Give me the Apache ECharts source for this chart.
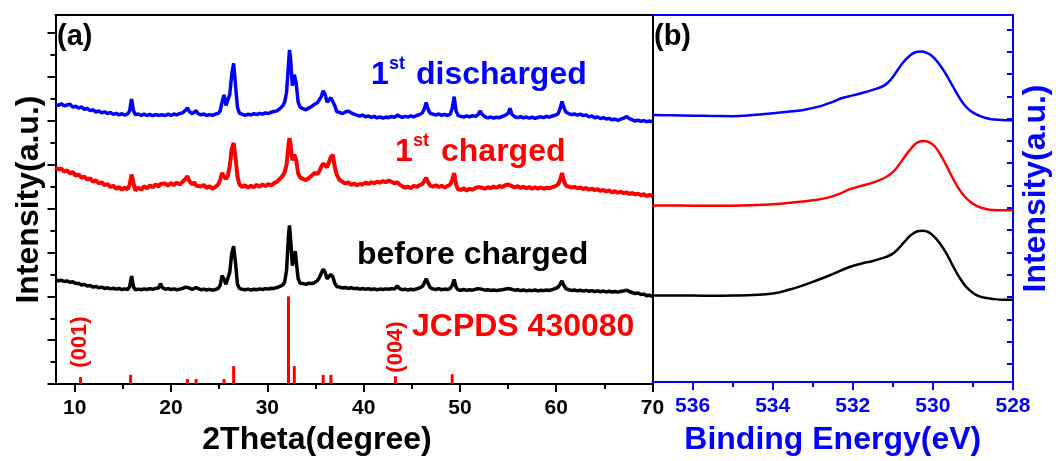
<!DOCTYPE html>
<html>
<head>
<meta charset="utf-8">
<script src="https://cdn.jsdelivr.net/npm/echarts@6/dist/echarts.min.js"></script>
<style>
  html, body { margin: 0; padding: 0; background: #ffffff; }
  #chart { width: 1056px; height: 461px; }
</style>
</head>
<body>
<div id="chart"></div>
<script>
// ---- (a) XRD patterns: diffraction angle (2θ, degrees) and offset intensities ----
const twoTheta = [
  8.0, 8.3, 8.6, 8.9, 9.2, 9.5, 9.8, 10.1, 10.4, 10.7, 11.0, 11.3, 11.6, 11.9, 12.2, 12.5, 12.8, 13.1, 13.4, 13.7, 14.0, 14.3, 14.6, 14.9, 15.2, 15.5,
  15.7, 15.9, 16.1, 16.3,
  16.6, 16.9, 17.2, 17.5, 17.8, 18.1, 18.4, 18.7,
  18.9, 19.1,
  19.4, 19.7, 20.0, 20.3, 20.6, 20.9, 21.2,
  21.5, 21.7, 21.9,
  22.2, 22.4, 22.6, 22.8,
  23.1, 23.4, 23.7, 24.0, 24.3, 24.6, 24.9,
  25.1, 25.3, 25.5, 25.7, 25.9, 26.1, 26.3, 26.5, 26.7, 26.9, 27.1,
  27.4, 27.7, 28.0, 28.3, 28.6, 28.9, 29.2, 29.5, 29.8, 30.1, 30.4, 30.7, 31.0, 31.3, 31.6,
  31.8, 32.0, 32.2, 32.3, 32.4, 32.6, 32.8, 32.9, 33.0, 33.2, 33.4,
  33.7, 34.0, 34.3, 34.6, 34.9, 35.2, 35.4,
  35.6, 35.8, 36.0, 36.2, 36.4, 36.6, 36.8, 37.0, 37.2,
  37.5, 37.8, 38.1, 38.4, 38.7, 39.0, 39.3, 39.6, 39.9, 40.2, 40.5, 40.8, 41.1, 41.4, 41.7, 42.0, 42.3, 42.6, 42.9, 43.2,
  43.5, 43.7,
  44.0, 44.3, 44.6, 44.9, 45.2, 45.5, 45.8, 46.1,
  46.3, 46.5, 46.7, 46.9,
  47.2, 47.5, 47.8, 48.1, 48.4, 48.7, 49.0,
  49.2, 49.4, 49.6, 49.8,
  50.1, 50.4, 50.7, 51.0, 51.3, 51.6, 51.9,
  52.1, 52.3,
  52.6, 52.9, 53.2, 53.5, 53.8, 54.1, 54.4, 54.7, 55.0,
  55.2, 55.4,
  55.7, 56.0, 56.3, 56.6, 56.9, 57.2, 57.5, 57.8, 58.1, 58.4, 58.7, 59.0, 59.3, 59.6, 59.9, 60.2,
  60.4, 60.6, 60.8, 61.0,
  61.3, 61.6, 61.9, 62.2, 62.5, 62.8, 63.1, 63.4, 63.7, 64.0, 64.3, 64.6, 64.9, 65.2, 65.5, 65.8, 66.1, 66.4, 66.7, 67.0, 67.3, 67.6, 67.9, 68.2, 68.5, 68.8, 69.1, 69.4, 69.7, 70.0
];

const xrdDischarged = [
  12.74, 12.70, 12.78, 12.68, 12.72, 12.76, 12.62, 12.66, 12.58, 12.63, 12.52, 12.56, 12.46, 12.50, 12.40, 12.45, 12.36, 12.41, 12.33, 12.38, 12.29, 12.34, 12.27, 12.32, 12.26, 12.31,
  12.45, 12.99, 12.45, 12.28,
  12.31, 12.25, 12.30, 12.24, 12.29, 12.23, 12.28, 12.25,
  12.32, 12.27,
  12.24, 12.30, 12.25, 12.31, 12.27, 12.33, 12.36,
  12.48, 12.59, 12.42,
  12.32, 12.38, 12.46, 12.33,
  12.27, 12.31, 12.24, 12.28, 12.25, 12.30, 12.34,
  12.45, 12.85, 13.18, 12.70, 12.62, 13.20, 14.10, 14.62, 13.60, 12.60, 12.35,
  12.29, 12.25, 12.30, 12.27, 12.32, 12.28, 12.34, 12.30, 12.36, 12.33, 12.39, 12.42, 12.45, 12.55, 12.68,
  12.85, 13.30, 14.60, 15.23, 14.90, 13.60, 14.10, 14.17, 13.70, 12.85, 12.62,
  12.55, 12.50, 12.58, 12.65, 12.75, 12.82, 12.90,
  13.10, 13.36, 13.20, 12.85, 12.80, 13.05, 13.05, 12.70, 12.42,
  12.38, 12.33, 12.40, 12.44, 12.36, 12.30, 12.26, 12.21, 12.26, 12.18, 12.22, 12.15, 12.20, 12.13, 12.18, 12.12, 12.17, 12.14, 12.20, 12.15,
  12.26, 12.19,
  12.15, 12.20, 12.17, 12.22, 12.18, 12.24, 12.28, 12.36,
  12.55, 12.83, 12.52, 12.35,
  12.30, 12.26, 12.31, 12.25, 12.29, 12.24, 12.30,
  12.55, 13.10, 12.45, 12.25,
  12.20, 12.17, 12.22, 12.18, 12.23, 12.20, 12.28,
  12.45, 12.30,
  12.18, 12.13, 12.17, 12.12, 12.16, 12.14, 12.20, 12.25, 12.33,
  12.57, 12.30,
  12.18, 12.14, 12.19, 12.13, 12.17, 12.12, 12.16, 12.11, 12.15, 12.18, 12.14, 12.20, 12.16, 12.22, 12.25, 12.32,
  12.55, 12.88, 12.60, 12.40,
  12.33, 12.28, 12.31, 12.26, 12.30, 12.24, 12.27, 12.18, 12.22, 12.14, 12.17, 12.10, 12.14, 12.08, 12.11, 12.04, 12.08, 12.02, 12.07, 12.12, 12.20, 12.10, 12.04, 11.99, 12.03, 11.97, 12.01, 11.96, 11.99, 11.95
];

const xrdCharged = [
  9.88, 9.78, 9.82, 9.68, 9.74, 9.60, 9.66, 9.50, 9.56, 9.40, 9.46, 9.32, 9.38, 9.22, 9.29, 9.14, 9.20, 9.06, 9.12, 8.98, 9.04, 8.90, 8.98, 8.86, 8.95, 8.88,
  9.10, 9.55, 9.15, 8.82,
  8.95, 8.86, 9.02, 8.92, 9.06, 8.97, 9.10, 9.00,
  9.12, 9.03,
  9.14, 9.05, 9.16, 9.07, 9.18, 9.10, 9.22,
  9.35, 9.47, 9.25,
  9.10, 9.20, 9.05, 9.14,
  9.00, 9.08, 8.94, 9.02, 8.90, 8.98, 9.10,
  9.30, 9.62, 9.45, 9.35, 9.50, 9.95, 10.70, 10.99, 10.30, 9.45, 9.10,
  8.98, 9.06, 8.95, 9.04, 8.97, 9.08, 8.99, 9.10, 9.02, 9.12, 9.05, 9.16, 9.22, 9.35, 9.50,
  9.65, 10.00, 10.90, 11.21, 10.95, 10.20, 10.45, 10.53, 10.20, 9.60, 9.42,
  9.35, 9.30, 9.38, 9.50, 9.62, 9.58, 9.70,
  9.90, 10.05, 10.08, 9.88, 9.95, 10.35, 10.45, 9.90, 9.55,
  9.30, 9.22, 9.14, 9.20, 9.08, 9.14, 9.06, 9.12, 9.10, 9.18, 9.12, 9.20, 9.15, 9.22, 9.18, 9.25, 9.20, 9.28, 9.22, 9.15,
  9.20, 9.10,
  9.02, 8.95, 9.00, 8.92, 9.04, 8.98, 9.06, 9.12,
  9.25, 9.40, 9.20, 9.05,
  9.00, 9.06, 8.98, 9.04, 8.96, 9.02, 9.10,
  9.30, 9.62, 9.10, 8.88,
  8.85, 8.92, 8.82, 8.90, 8.86, 8.94, 8.98,
  9.05, 8.95,
  8.90, 8.97, 8.93, 9.00, 8.95, 9.03, 8.98, 9.06, 9.10,
  9.17, 9.02,
  8.96, 9.02, 8.94, 9.00, 8.92, 8.98, 8.90, 8.97, 8.91, 8.96, 8.90, 8.95, 8.92, 8.98, 9.02, 9.10,
  9.30, 9.62, 9.25, 9.05,
  9.00, 8.95, 8.99, 8.92, 8.96, 8.89, 8.94, 8.86, 8.91, 8.84, 8.88, 8.80, 8.85, 8.78, 8.83, 8.74, 8.79, 8.72, 8.77, 8.70, 8.74, 8.66, 8.71, 8.64, 8.68, 8.60, 8.66, 8.57, 8.62, 8.58
];

const xrdBefore = [
  4.75, 4.71, 4.73, 4.68, 4.70, 4.64, 4.66, 4.58, 4.60, 4.52, 4.54, 4.47, 4.49, 4.42, 4.45, 4.39, 4.42, 4.36, 4.39, 4.34, 4.37, 4.33, 4.36, 4.31, 4.34, 4.31,
  4.45, 4.92, 4.42, 4.30,
  4.33, 4.30, 4.34, 4.31, 4.35, 4.32, 4.36, 4.38,
  4.58, 4.40,
  4.32, 4.35, 4.31, 4.34, 4.30, 4.33, 4.36,
  4.42, 4.48, 4.38,
  4.31, 4.35, 4.40, 4.32,
  4.30, 4.33, 4.29, 4.32, 4.28, 4.31, 4.36,
  4.50, 4.95, 4.78, 4.55, 4.60, 5.10, 5.95, 6.29, 5.50, 4.55, 4.36,
  4.32, 4.30, 4.33, 4.29, 4.32, 4.30, 4.34, 4.31, 4.35, 4.33, 4.37, 4.36, 4.40, 4.45, 4.52,
  4.65, 5.20, 6.80, 7.23, 6.70, 5.40, 5.90, 6.06, 5.60, 4.80, 4.60,
  4.58, 4.55, 4.60, 4.58, 4.62, 4.72, 4.85,
  5.05, 5.23, 5.10, 4.80, 4.78, 5.00, 4.90, 4.60, 4.45,
  4.42, 4.38, 4.40, 4.36, 4.39, 4.35, 4.37, 4.33, 4.36, 4.32, 4.35, 4.31, 4.34, 4.30, 4.33, 4.31, 4.34, 4.32, 4.35, 4.33,
  4.48, 4.36,
  4.30, 4.33, 4.29, 4.32, 4.30, 4.34, 4.38, 4.45,
  4.60, 4.80, 4.58, 4.40,
  4.34, 4.31, 4.35, 4.30, 4.33, 4.31, 4.36,
  4.50, 4.77, 4.42, 4.30,
  4.28, 4.31, 4.27, 4.30, 4.28, 4.32, 4.35,
  4.42, 4.32,
  4.28, 4.30, 4.27, 4.29, 4.26, 4.29, 4.30, 4.33, 4.36,
  4.43, 4.32,
  4.28, 4.30, 4.26, 4.29, 4.25, 4.28, 4.26, 4.29, 4.25, 4.28, 4.26, 4.29, 4.27, 4.31, 4.35, 4.42,
  4.55, 4.70, 4.50, 4.35,
  4.30, 4.27, 4.29, 4.25, 4.28, 4.24, 4.27, 4.23, 4.26, 4.22, 4.25, 4.21, 4.24, 4.20, 4.23, 4.20, 4.22, 4.19, 4.22, 4.25, 4.28, 4.22, 4.17, 4.13, 4.15, 4.08, 4.10, 4.03, 4.05, 4.00
];

// Reference card JCPDS 430080: line positions and relative heights
const jcpdsAngles    = [10.6, 15.8, 21.7, 22.6, 25.5, 26.5, 32.2, 32.8, 35.8, 36.6, 43.3, 49.2];
const jcpdsIntensity = [0.32, 0.42, 0.23, 0.23, 0.23, 0.82, 4.00, 0.82, 0.42, 0.42, 0.36, 0.45];

// ---- (b) O 1s XPS spectra: [binding energy (eV), offset intensity] ----
const xpsDischarged = [
  [537.0, 11.96], [536.5, 11.95], [536.0, 11.93], [535.5, 11.92], [535.0, 11.91], [534.5, 11.96], [534.0, 12.04],
  [533.5, 12.13], [533.2, 12.20], [532.8, 12.36], [532.5, 12.55], [532.3, 12.70], [532.0, 12.84], [531.7, 12.98],
  [531.4, 13.14], [531.2, 13.30], [531.05, 13.55], [530.9, 13.92], [530.75, 14.30], [530.6, 14.58], [530.45, 14.76],
  [530.3, 14.80], [530.15, 14.74], [530.0, 14.57], [529.85, 14.26], [529.7, 13.87], [529.55, 13.40], [529.4, 12.92],
  [529.25, 12.50], [529.1, 12.20], [528.95, 12.02], [528.8, 11.90], [528.6, 11.79], [528.4, 11.75], [528.2, 11.73], [528.0, 11.73]
];
const xpsCharged = [
  [537.0, 7.91], [536.5, 7.91], [536.0, 7.90], [535.5, 7.90], [535.0, 7.90], [534.5, 7.92], [534.0, 7.96],
  [533.5, 8.04], [533.0, 8.14], [532.6, 8.27], [532.3, 8.45], [532.1, 8.62], [531.8, 8.78], [531.5, 8.93],
  [531.2, 9.15], [531.0, 9.40], [530.85, 9.72], [530.7, 10.10], [530.55, 10.45], [530.4, 10.72], [530.25, 10.80],
  [530.1, 10.75], [529.95, 10.55], [529.8, 10.15], [529.65, 9.65], [529.5, 9.12], [529.35, 8.65], [529.2, 8.30],
  [529.05, 8.05], [528.9, 7.88], [528.7, 7.76], [528.5, 7.70], [528.25, 7.69], [528.0, 7.69]
];
const xpsBefore = [
  [537.0, 3.87], [536.5, 3.87], [536.0, 3.87], [535.5, 3.86], [535.0, 3.87], [534.5, 3.90], [534.0, 3.96],
  [533.6, 4.13], [533.1, 4.42], [532.6, 4.76], [532.1, 5.14], [531.8, 5.30], [531.5, 5.42], [531.2, 5.58],
  [531.0, 5.75], [530.85, 6.00], [530.7, 6.30], [530.55, 6.58], [530.4, 6.74], [530.25, 6.77], [530.1, 6.70],
  [529.95, 6.48], [529.8, 6.15], [529.65, 5.72], [529.5, 5.20], [529.35, 4.72], [529.2, 4.33], [529.05, 4.06],
  [528.9, 3.88], [528.7, 3.77], [528.5, 3.72], [528.25, 3.69], [528.0, 3.69]
];

// Axis tick values and labels
const thetaLabels   = [10, 20, 30, 40, 50, 60, 70];
const thetaMinor    = [15, 25, 35, 45, 55, 65];
const energyLabels  = [536, 534, 532, 530, 528];
const energyMinor   = [535, 533, 531, 529];
const intensMajorA  = [0, 2, 4, 6, 8, 10, 12, 14, 16];
const intensMinorA  = [1, 3, 5, 7, 9, 11, 13, 15];
const intensTicksB  = [0.8, 1.8, 2.8, 3.8, 4.8, 5.8, 6.8, 7.8, 8.8, 9.8, 10.8, 11.8, 12.8, 13.8, 14.8, 15.8];

const FONT  = '"Liberation Sans", Arial, Helvetica, sans-serif';
const BLUE  = '#0000ff';
const RED   = '#ff0000';
const BLACK = '#000000';

const pairs = (xs, ys) => xs.map((x, i) => [x, ys[i]]);

const frameAxis = (gridIndex, position, color, min, max) => ({
  gridIndex, position, type: 'value', min, max,
  axisLine: { show: true, onZero: false, lineStyle: { color, width: 2 } },
  axisTick: { show: false }, axisLabel: { show: false }, splitLine: { show: false }
});

const tickAxis = (gridIndex, position, color, min, max, values, length, inside, extra) => Object.assign({
  gridIndex, position, type: 'value', min, max,
  axisLine: { show: false, onZero: false },
  axisTick: { show: true, inside: !!inside, customValues: values, length, lineStyle: { color, width: 2 } },
  axisLabel: { show: false }, splitLine: { show: false }
}, extra || {});

const labelStyle = color => ({ color, fontSize: 21, fontWeight: 'bold', fontFamily: FONT, margin: 14 });
const nameStyle = (color, padding) => ({ color, fontSize: 32, fontWeight: 'bold', fontFamily: FONT, padding });

const chart = echarts.init(document.getElementById('chart'), null, { renderer: 'canvas' });

const text = (x, y, str, size, color, align, extra) => Object.assign({
  type: 'text', x, y, silent: true, z: 100,
  style: {
    text: str, fill: color, font: `bold ${size}px ${FONT}`,
    align: align || 'left', verticalAlign: 'middle',
    textAlign: align || 'left', textVerticalAlign: 'middle'
  }
}, extra || {});

chart.setOption({
  animation: false,
  backgroundColor: '#ffffff',
  grid: [
    { left: 55.5, top: 15, width: 597, height: 370 },
    { left: 652.5, top: 15, width: 360.5, height: 370 }
  ],
  xAxis: [
    // (a) 2θ axis
    {
      gridIndex: 0, position: 'bottom', type: 'value', min: 8, max: 70,
      axisLine: { show: true, onZero: false, lineStyle: { color: BLACK, width: 2 } },
      axisTick: { show: true, customValues: thetaLabels, length: 8, lineStyle: { color: BLACK, width: 2 } },
      axisLabel: Object.assign({ customValues: thetaLabels }, labelStyle(BLACK)),
      splitLine: { show: false },
      name: '2Theta(degree)', nameLocation: 'middle', nameGap: 35,
      nameTextStyle: nameStyle(BLACK, [0, 74, 0, 0])
    },
    tickAxis(0, 'bottom', BLACK, 8, 70, thetaMinor, 5),
    frameAxis(0, 'top', BLACK, 8, 70),
    // (b) binding energy axis, high to low
    {
      gridIndex: 1, position: 'bottom', type: 'value', min: 528, max: 537, inverse: true,
      axisLine: { show: true, onZero: false, lineStyle: { color: BLUE, width: 2 } },
      axisTick: { show: true, customValues: energyLabels, length: 8, lineStyle: { color: BLUE, width: 2 } },
      axisLabel: Object.assign({ customValues: energyLabels }, labelStyle(BLUE)),
      splitLine: { show: false },
      name: 'Binding Energy(eV)', nameLocation: 'middle', nameGap: 42,
      nameTextStyle: nameStyle(BLUE, [0, 0, 0, 0])
    },
    tickAxis(1, 'bottom', BLUE, 528, 537, energyMinor, 5, false, { inverse: true }),
    frameAxis(1, 'top', BLUE, 528, 537)
  ],
  yAxis: [
    {
      gridIndex: 0, position: 'left', type: 'value', min: 0, max: 16.82,
      axisLine: { show: true, onZero: false, lineStyle: { color: BLACK, width: 2 } },
      axisTick: { show: true, customValues: intensMajorA, length: 8, lineStyle: { color: BLACK, width: 2 } },
      axisLabel: { show: false }, splitLine: { show: false },
      name: 'Intensity(a.u.)', nameLocation: 'middle', nameGap: 10,
      nameTextStyle: nameStyle(BLACK, [0, 0, 0, 0])
    },
    tickAxis(0, 'left', BLACK, 0, 16.82, intensMinorA, 5),
    frameAxis(0, 'right', BLACK, 0, 16.82),
    {
      gridIndex: 1, position: 'right', type: 'value', min: 0, max: 16.44,
      axisLine: { show: true, onZero: false, lineStyle: { color: BLUE, width: 2 } },
      axisTick: { show: true, inside: true, customValues: intensTicksB, length: 6, lineStyle: { color: BLUE, width: 2 } },
      axisLabel: { show: false }, splitLine: { show: false },
      name: 'Intensity(a.u.)', nameLocation: 'middle', nameGap: 7,
      nameTextStyle: nameStyle(BLUE, [0, 0, 0, 20])
    }
  ],
  series: [
    {
      type: 'custom', name: 'JCPDS 430080', xAxisIndex: 0, yAxisIndex: 0, z: 3, silent: true,
      data: pairs(jcpdsAngles, jcpdsIntensity),
      renderItem: (params, api) => {
        const base = api.coord([api.value(0), 0]);
        const top = api.coord([api.value(0), api.value(1)]);
        return {
          type: 'line',
          shape: { x1: base[0], y1: base[1], x2: top[0], y2: top[1] },
          style: { stroke: RED, lineWidth: 3 }
        };
      }
    },
    {
      type: 'line', name: 'before charged', xAxisIndex: 0, yAxisIndex: 0, silent: true,
      data: pairs(twoTheta, xrdBefore), showSymbol: false, symbol: 'none',
      lineStyle: { color: BLACK, width: 3.5 }, itemStyle: { color: BLACK }
    },
    {
      type: 'line', name: '1st charged', xAxisIndex: 0, yAxisIndex: 0, silent: true,
      data: pairs(twoTheta, xrdCharged), showSymbol: false, symbol: 'none',
      lineStyle: { color: RED, width: 4 }, itemStyle: { color: RED }
    },
    {
      type: 'line', name: '1st discharged', xAxisIndex: 0, yAxisIndex: 0, silent: true,
      data: pairs(twoTheta, xrdDischarged), showSymbol: false, symbol: 'none',
      lineStyle: { color: BLUE, width: 3.5 }, itemStyle: { color: BLUE }
    },
    {
      type: 'line', name: 'O 1s before charged', xAxisIndex: 3, yAxisIndex: 3, silent: true,
      data: xpsBefore, showSymbol: false, symbol: 'none', smooth: 0.4,
      lineStyle: { color: BLACK, width: 2.5 }, itemStyle: { color: BLACK }
    },
    {
      type: 'line', name: 'O 1s 1st charged', xAxisIndex: 3, yAxisIndex: 3, silent: true,
      data: xpsCharged, showSymbol: false, symbol: 'none', smooth: 0.4,
      lineStyle: { color: RED, width: 2.5 }, itemStyle: { color: RED }
    },
    {
      type: 'line', name: 'O 1s 1st discharged', xAxisIndex: 3, yAxisIndex: 3, silent: true,
      data: xpsDischarged, showSymbol: false, symbol: 'none', smooth: 0.4,
      lineStyle: { color: BLUE, width: 2.5 }, itemStyle: { color: BLUE }
    }
  ],
  graphic: [
    text(57, 36.5, '(a)', 29, BLACK),
    text(654, 36.5, '(b)', 29, BLACK),
    text(371, 75, '1', 32, BLUE),
    text(389, 64, 'st', 18, BLUE),
    text(416, 75, 'discharged', 32, BLUE),
    text(395, 152, '1', 32, RED),
    text(413, 141, 'st', 18, RED),
    text(441, 152, 'charged', 32, RED),
    text(357, 255, 'before charged', 32, BLACK),
    text(412, 327, 'JCPDS 430080', 32, RED),
    text(80, 342, '(001)', 22, RED, 'center', { rotation: Math.PI / 2 }),
    text(396, 347, '(004)', 22, RED, 'center', { rotation: Math.PI / 2 })
  ]
});
</script>
</body>
</html>
